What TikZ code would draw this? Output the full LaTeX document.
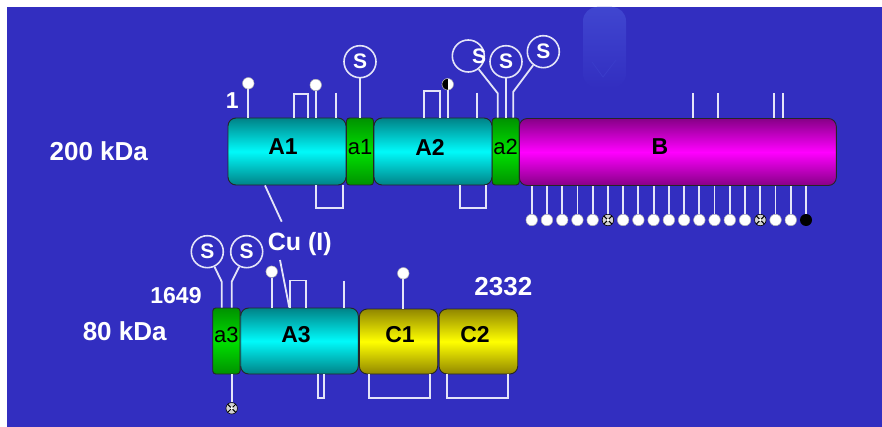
\documentclass[tikz,border=0pt]{standalone}
\usepackage{fontspec}
\setmainfont{Liberation Sans}
\definecolor{bg}{RGB}{50,46,192}
\definecolor{stemc}{RGB}{228,228,248}
\definecolor{cyT}{RGB}{0,130,135}
\definecolor{cyM}{RGB}{0,250,250}
\definecolor{grT}{RGB}{0,145,0}
\definecolor{grM}{RGB}{0,225,0}
\definecolor{mgT}{RGB}{135,0,135}
\definecolor{mgM}{RGB}{255,0,255}
\definecolor{ylT}{RGB}{145,135,0}
\definecolor{ylM}{RGB}{255,255,0}
\definecolor{ghost}{RGB}{64,70,208}
\begin{document}
\begin{tikzpicture}[x=1pt,y=-1pt,
  dom/.style={draw=black!85, line width=0.9pt, inner sep=0pt},
  bigdom/.style={dom, rounded corners=8pt},
  smalldom/.style={dom, rounded corners=3pt},
  cyandom/.style={bigdom, top color=cyT, bottom color=cyT, middle color=cyM},
  greendom/.style={smalldom, top color=grT, bottom color=grT, middle color=grM},
  magdom/.style={bigdom, top color=mgT, bottom color=mgT, middle color=mgM},
  yeldom/.style={bigdom, top color=ylT, bottom color=ylT, middle color=ylM},
  domtxt/.style={font=\fontsize{23}{23}\selectfont\bfseries, text=black, inner sep=0pt},
  smalltxt/.style={font=\fontsize{22}{22}\selectfont, text=black, inner sep=0pt},
  lbl/.style={font=\fontsize{23}{23}\selectfont\bfseries, text=white, inner sep=0pt},
  biglbl/.style={font=\fontsize{26}{26}\selectfont\bfseries, text=white, inner sep=0pt},
  stem/.style={draw=stemc, line width=1.8pt},
  pin/.style={circle, fill=white, draw=gray!60, line width=0.5pt, minimum size=11.5pt, inner sep=0pt},
  xpin/.style={circle, fill=gray!35, draw=black, line width=0.6pt, minimum size=11.5pt, inner sep=0pt,
     path picture={\draw[black, line width=1pt] (path picture bounding box.north west) -- (path picture bounding box.south east)
        (path picture bounding box.north east) -- (path picture bounding box.south west);
        \fill[white] (path picture bounding box.center) circle[radius=1.6pt];}},
  blackpin/.style={circle, fill=black, minimum size=12pt, inner sep=0pt},
  halfpin/.style={pin, path picture={\fill[black] (path picture bounding box.north west) rectangle (path picture bounding box.south);}},
  scirc/.style={circle, draw=stemc, line width=1.6pt, minimum size=32pt, inner sep=0pt},
  stxt/.style={font=\fontsize{21}{21}\selectfont\bfseries, text=white, inner sep=0pt}
]
\useasboundingbox (0,0) rectangle (882,427);
\fill[white] (0,0) rectangle (882,427);
\fill[bg] (7,7) rectangle (882,427);
% faint ghost streak
\shade[top color=ghost, bottom color=bg, rounded corners=14pt] (583,7) rectangle (626,88);
\draw[ghost!60!bg, line width=0.8pt] (592,62) -- (603,77) -- (616,60);

% ---------- top row domains ----------
\node[cyandom, minimum width=118pt, minimum height=67pt] (A1) at (287,151.5) {};
\node[greendom, minimum width=27pt, minimum height=67pt] (a1) at (360,151.5) {};
\node[cyandom, minimum width=118pt, minimum height=67pt] (A2) at (433,151.5) {};
\node[greendom, minimum width=27pt, minimum height=67pt] (a2) at (505.7,151.5) {};
\node[magdom, minimum width=317pt, minimum height=67pt] (B) at (677.8,152) {};
\node[domtxt] (tA1) at (283,147) {A1};
\node[smalltxt] (ta1) at (360,147) {a1};
\node[domtxt] (tA2) at (430,147) {A2};
\node[smalltxt] (ta2) at (505.5,147) {a2};
\node[domtxt] (tB) at (660,147) {B};

% ---------- bottom row domains ----------
\node[greendom, minimum width=27.3pt, minimum height=66pt] (a3) at (226.4,341) {};
\node[cyandom, minimum width=117.6pt, minimum height=66pt] (A3) at (299.5,341) {};
\node[yeldom, minimum width=78.4pt, minimum height=65pt] (C1) at (398.5,341.5) {};
\node[yeldom, minimum width=78.7pt, minimum height=65pt] (C2) at (478.4,341.5) {};
\node[smalltxt] (ta3) at (226.4,335) {a3};
\node[domtxt] (tA3) at (296,335) {A3};
\node[domtxt] (tC1) at (400,335) {C1};
\node[domtxt] (tC2) at (475,335) {C2};

% ---------- labels ----------
\node[biglbl] (k200) at (98.8,151.5) {200 kDa};
\node[lbl] (one) at (232.3,100.5) {1};
\node[lbl] (n1649) at (176,295.5) {1649};
\node[biglbl] (k80) at (124.7,331) {80 kDa};
\node[biglbl] (n2332) at (503.3,286.5) {2332};
\node[lbl, font=\fontsize{25}{25}\selectfont\bfseries] (cu) at (299.8,244.5) {Cu (I)};

% ---------- top row features ----------
\node[pin] (p1) at (248.3,83.3) {};
\draw[stem] (p1) -- (p1 |- A1.north);
\draw[stem] (294,0 |- A1.north) |- (308,94) -- (308,0 |- A1.north);
\node[pin] (p2) at (315.7,85) {};
\draw[stem] (p2) -- (p2 |- A1.north);
\coordinate (l1) at (336,92.7);
\draw[stem] (l1) -- (l1 |- A1.north);
\node[scirc] (s1) at (360,61.7) {};
\node[stxt] (st1) at (360,61.7) {S};
\draw[stem] (s1) -- (s1 |- a1.north);

\draw[stem] (423.7,0 |- A2.north) |- (440,91) -- (440,0 |- A2.north);
\node[halfpin] (p3) at (447.7,84.3) {};
\draw[stem] (p3) -- (p3 |- A2.north);
\coordinate (l2) at (477.3,92.7);
\draw[stem] (l2) -- (l2 |- A2.north);

\node[scirc] (s2) at (468.3,56) {};
\node[stxt] (st2) at (479,56) {S};
\coordinate (k2) at (497.7,93.3);
\draw[stem] (s2) -- (k2) -- (k2 |- a2.north);
\node[scirc] (s3) at (506,61.7) {};
\node[stxt] (st3) at (506,61.7) {S};
\draw[stem] (s3) -- (s3 |- a2.north);
\node[scirc] (s4) at (543.3,51.7) {};
\node[stxt] (st4) at (543.3,51.7) {S};
\coordinate (k4) at (513.3,91.7);
\draw[stem] (s4) -- (k4) -- (k4 |- a2.north);

\foreach \x [count=\i] in {693.3,717.7,774,783.3}{
  \coordinate (bt\i) at (\x,93.3);
  \draw[stem] (bt\i) -- (bt\i |- B.north);
}

% ---------- top row bottom features ----------
\draw[stem] (315.7,0 |- A1.south) |- (342.7,208.3) -- (342.7,0 |- A1.south);
\draw[stem] (460,0 |- A2.south) |- (486,208.3) -- (486,0 |- A2.south);
\foreach \i in {0,...,18}{
  \pgfmathsetmacro{\xx}{531.7+15.24*\i}
  \ifnum\i=5
    \node[xpin] (b\i) at (\xx,220) {};
  \else\ifnum\i=15
    \node[xpin] (b\i) at (\xx,220) {};
  \else\ifnum\i=18
    \node[blackpin] (b\i) at (\xx,220) {};
  \else
    \node[pin] (b\i) at (\xx,220) {};
  \fi\fi\fi
  \draw[stem] (b\i) -- (b\i |- B.south);
}

% copper link
\coordinate (cu1) at (281.7,221.7);
\draw[stem] (265,0 |- A1.south) -- (cu1);
\coordinate (cu2) at (280,260);
\draw[stem] (cu2) -- (289.3,0 |- A3.north);

% ---------- bottom row features ----------
\node[scirc] (s5) at (207.3,251.7) {};
\node[stxt] (st5) at (207.3,251.7) {S};
\coordinate (k5) at (221.7,281.7);
\draw[stem] (s5) -- (k5) -- (k5 |- a3.north);
\node[scirc] (s6) at (246.7,251.7) {};
\node[stxt] (st6) at (246.7,251.7) {S};
\coordinate (k6) at (231.7,281.7);
\draw[stem] (s6) -- (k6) -- (k6 |- a3.north);

\node[pin] (p4) at (271.7,271.7) {};
\draw[stem] (p4) -- (p4 |- A3.north);
\draw[stem] (290,0 |- A3.north) |- (306,280.5) -- (306,0 |- A3.north);
\coordinate (l3) at (344,280.5);
\draw[stem] (l3) -- (l3 |- A3.north);
\node[pin] (p5) at (403.3,273.3) {};
\draw[stem] (p5) -- (p5 |- C1.north);

\node[xpin] (p6) at (231.7,408.3) {};
\draw[stem] (p6) -- (p6 |- a3.south);
\draw[stem] (317.7,0 |- A3.south) |- (324,398.3) -- (324,0 |- A3.south);
\draw[stem] (369.3,0 |- C1.south) |- (430,398.3) -- (430,0 |- C1.south);
\draw[stem] (447.3,0 |- C2.south) |- (508.3,398.3) -- (508.3,0 |- C2.south);
\end{tikzpicture}
\end{document}
